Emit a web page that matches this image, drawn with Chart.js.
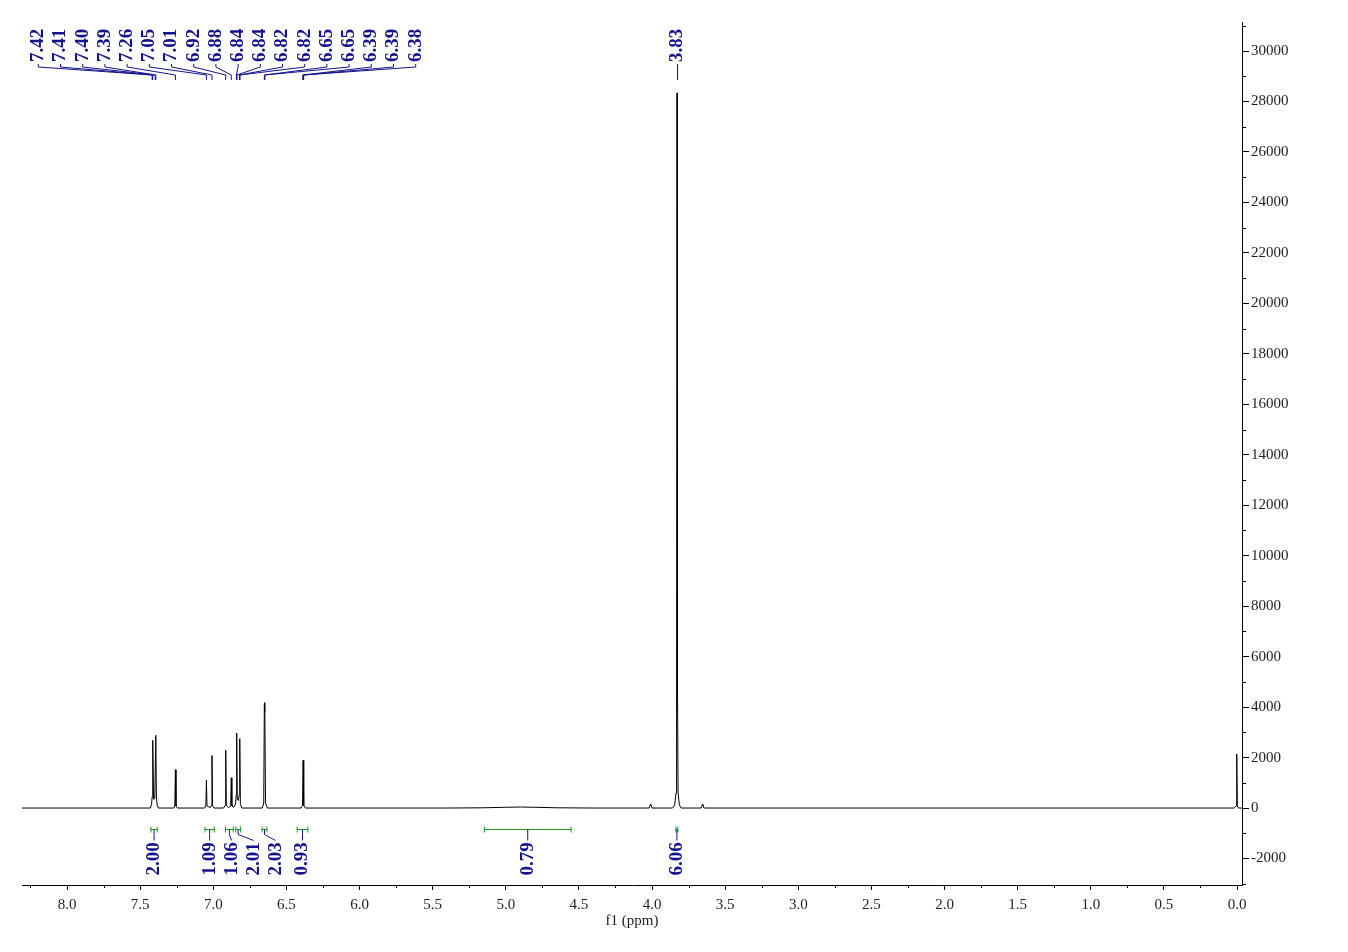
<!DOCTYPE html>
<html>
<head>
<meta charset="utf-8">
<script src="https://cdn.jsdelivr.net/npm/chart.js@4.4.1/dist/chart.umd.min.js"></script>
<style>
html,body{margin:0;padding:0;background:#fff;}
#wrap{width:1348px;height:952px;}
</style>
</head>
<body>
<div id="wrap"><canvas id="c" width="1348" height="952"></canvas></div>
<script>
// ---- spectrum (ppm, intensity) ----
const specPpm = [8.31, 7.44, 7.43, 7.422, 7.418, 7.414, 7.408, 7.400, 7.393, 7.389, 7.384, 7.375,
  7.27, 7.263, 7.259, 7.255, 7.245,
  7.06, 7.051, 7.047, 7.043, 7.02, 7.013, 7.009, 7.005, 6.995,
  6.93, 6.919, 6.915, 6.911, 6.895, 6.881, 6.877, 6.873, 6.86, 6.848, 6.844, 6.840, 6.836, 6.830, 6.823, 6.819, 6.815, 6.805,
  6.665, 6.655, 6.651, 6.649, 6.647, 6.643, 6.63,
  6.40, 6.390, 6.386, 6.383, 6.380, 6.37,
  5.40, 5.15, 5.00, 4.90, 4.80, 4.65, 4.40,
  4.02, 4.009, 4.000,
  3.86, 3.845, 3.836, 3.832, 3.829, 3.826, 3.822, 3.813, 3.80,
  3.665, 3.653, 3.645,
  0.02, 0.006, 0.002, -0.002, -0.01, -0.034];
const specInt = [0, 0, 0, 150, 450, 2680, 350, 380, 2880, 450, 120, 0,
  0, 80, 1520, 80, 0,
  0, 80, 1100, 80, 20, 100, 2080, 100, 0,
  0, 100, 2290, 100, 20, 80, 1200, 80, 30, 150, 500, 2970, 350, 300, 500, 2750, 150, 0,
  0, 200, 4100, 3800, 4180, 200, 0,
  0, 100, 1890, 1020, 100, 0,
  0, 10, 30, 40, 30, 10, 0,
  0, 160, 0,
  0, 120, 600, 5000, 28340, 5000, 600, 120, 0,
  0, 160, 0,
  0, 80, 2140, 80, 0, 0];

// ---- peak picking labels ----
const peakPpm = [7.418, 7.414, 7.397, 7.393, 7.259, 7.047, 7.009, 6.915, 6.877, 6.842, 6.838, 6.821, 6.817, 6.651, 6.647, 6.388, 6.385, 6.382];
const peakLabels = ['7.42','7.41','7.40','7.39','7.26','7.05','7.01','6.92','6.88','6.84','6.84','6.82','6.82','6.65','6.65','6.39','6.39','6.38'];
const singlePeakPpm = [3.829];
const singlePeakLabels = ['3.83'];

// ---- integrals ----
const intFrom = [7.43, 7.06, 6.92, 6.85, 6.67, 6.43, 5.15, 3.84];
const intTo   = [7.38, 6.99, 6.86, 6.81, 6.63, 6.35, 4.55, 3.82];
const intLabels = ['2.00','1.09','1.06','2.01','2.03','0.93','0.79','6.06'];

// ---- axis ticks ----
const xTickStep = 0.5, xMinorStep = 0.25;
const yTicks = [-2000, 0, 2000, 4000, 6000, 8000, 10000, 12000, 14000, 16000, 18000, 20000, 22000, 24000, 26000, 28000, 30000];
const yTickStep = 2000, yMinorStep = 1000;
const xTitle = 'f1 (ppm)';

const NAVY = '#13138c';
const GREEN = '#1f9a1f';
const AXIS = '#000';
const TXT = '#222';

const minorTicks = {
  id: 'minorTicks',
  afterDraw(chart) {
    const {ctx, scales: {x, y}, chartArea} = chart;
    ctx.save();
    ctx.strokeStyle = AXIS;
    ctx.lineWidth = 1;
    ctx.beginPath();
    for (let v = Math.ceil(x.min / xMinorStep) * xMinorStep; v <= x.max + 1e-9; v += xMinorStep) {
      if (Math.abs(v / xTickStep - Math.round(v / xTickStep)) < 1e-6) continue;
      const px = Math.round(x.getPixelForValue(v)) + 0.5;
      ctx.moveTo(px, chartArea.bottom);
      ctx.lineTo(px, chartArea.bottom + 3);
    }
    for (let v = Math.ceil(y.min / yMinorStep) * yMinorStep; v <= y.max; v += yMinorStep) {
      if (v % yTickStep === 0) continue;
      const py = Math.round(y.getPixelForValue(v)) + 0.5;
      ctx.moveTo(chartArea.right, py);
      ctx.lineTo(chartArea.right + 4, py);
    }
    ctx.stroke();
    ctx.restore();
  }
};

const annotations = {
  id: 'annotations',
  afterDatasetsDraw(chart) {
    const {ctx, scales: {x, y}} = chart;
    ctx.save();
    ctx.font = 'bold 19px "Liberation Serif", "Times New Roman", serif';
    ctx.textBaseline = 'middle';
    ctx.textAlign = 'left';
    ctx.lineWidth = 1;

    // peak labels on top
    const top0 = chart.chartArea.top;
    const labelBottom = top0 + 40;
    const startX = 38.3, stepX = 22.2;
    peakPpm.forEach((p, i) => {
      const lx = startX + i * stepX;
      const px = x.getPixelForValue(p);
      ctx.fillStyle = NAVY;
      ctx.save();
      ctx.translate(lx, labelBottom);
      ctx.rotate(-Math.PI / 2);
      ctx.fillText(peakLabels[i], 0, 0);
      ctx.restore();
      ctx.strokeStyle = NAVY;
      ctx.beginPath();
      ctx.moveTo(lx, labelBottom + 2);
      ctx.lineTo(lx, labelBottom + 5);
      ctx.lineTo(px, labelBottom + 13);
      ctx.lineTo(px, labelBottom + 18);
      ctx.stroke();
    });
    singlePeakPpm.forEach((p, i) => {
      const px = x.getPixelForValue(p);
      ctx.fillStyle = NAVY;
      ctx.save();
      ctx.translate(px, labelBottom);
      ctx.rotate(-Math.PI / 2);
      ctx.fillText(singlePeakLabels[i], 0, 0);
      ctx.restore();
      ctx.strokeStyle = NAVY;
      ctx.beginPath();
      ctx.moveTo(px + 0.5, labelBottom + 2);
      ctx.lineTo(px + 0.5, labelBottom + 18);
      ctx.stroke();
    });

    // integrals
    const barY = Math.round(y.getPixelForValue(0)) + 21.5;
    const txtBottom = barY + 46;
    let prev = -1e9;
    intFrom.forEach((a, i) => {
      const x1 = x.getPixelForValue(a), x2 = x.getPixelForValue(intTo[i]);
      const cx = (x1 + x2) / 2;
      ctx.strokeStyle = GREEN;
      ctx.beginPath();
      ctx.moveTo(x1, barY); ctx.lineTo(x2, barY);
      ctx.moveTo(x1 + 0.5, barY - 3); ctx.lineTo(x1 + 0.5, barY + 3);
      ctx.moveTo(x2 - 0.5, barY - 3); ctx.lineTo(x2 - 0.5, barY + 3);
      ctx.stroke();
      let lx = Math.max(cx, prev + 22);
      if (i > 0 && cx - prev > 40) lx = cx;
      prev = lx;
      ctx.strokeStyle = NAVY;
      ctx.beginPath();
      ctx.moveTo(cx, barY);
      ctx.lineTo(cx, barY + 5);
      ctx.lineTo(lx, barY + 11);
      ctx.stroke();
      ctx.fillStyle = NAVY;
      ctx.save();
      ctx.translate(lx, txtBottom);
      ctx.rotate(-Math.PI / 2);
      ctx.fillText(intLabels[i], 0, 0);
      ctx.restore();
    });
    ctx.restore();
  }
};

const points = specPpm.map((p, i) => ({x: p, y: specInt[i]}));
const tickFont = {family: '"Liberation Serif", "Times New Roman", serif', size: 15};

new Chart(document.getElementById('c'), {
  type: 'line',
  data: {
    datasets: [{
      data: points,
      borderColor: '#000',
      borderWidth: 1,
      pointRadius: 0,
      tension: 0,
      fill: false
    }]
  },
  options: {
    responsive: false,
    animation: false,
    layout: {padding: {left: 22, top: 22, right: 0, bottom: 0}},
    plugins: {legend: {display: false}, tooltip: {enabled: false}},
    scales: {
      x: {
        type: 'linear',
        reverse: true,
        min: -0.034,
        max: 8.308,
        afterFit: s => { s.height = 67; },
        border: {display: true, color: AXIS, width: 1},
        grid: {display: true, drawOnChartArea: false, drawTicks: true, tickLength: 5, color: AXIS},
        ticks: {stepSize: xTickStep, includeBounds: false, autoSkip: false, maxRotation: 0,
          padding: 6, color: TXT, font: tickFont, callback: v => Number(v).toFixed(1)},
        title: {display: true, text: xTitle, color: TXT,
          font: {family: '"Liberation Serif", "Times New Roman", serif', size: 15, lineHeight: 1.2},
          padding: {top: 0, bottom: 22}}
      },
      y: {
        type: 'linear',
        position: 'right',
        min: -3050,
        max: 31150,
        afterFit: s => { s.width = 106; },
        afterBuildTicks: s => { s.ticks = yTicks.map(v => ({value: v})); },
        border: {display: true, color: AXIS, width: 1},
        grid: {display: true, drawOnChartArea: false, drawTicks: true, tickLength: 7, color: AXIS},
        ticks: {autoSkip: false, padding: 2, color: TXT, font: tickFont, callback: v => String(v)}
      }
    }
  },
  plugins: [minorTicks, annotations]
});
</script>
</body>
</html>
